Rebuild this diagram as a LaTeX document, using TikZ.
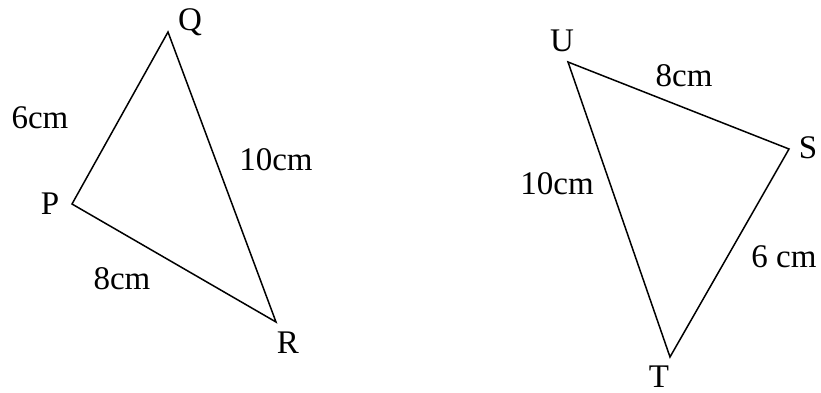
\documentclass[tikz,border=0pt]{standalone}
\usepackage{fontspec}
\setmainfont{Liberation Serif}
\begin{document}
\begin{tikzpicture}[x=1pt,y=-1pt,
  edge/.style={line width=1.5pt,line join=miter},
  lbl/.style={font=\fontsize{33}{35}\selectfont,inner sep=0pt}]
\useasboundingbox (0,0) rectangle (821,392);
% left triangle
\coordinate (P) at (72,204);
\coordinate (Q) at (168,32);
\coordinate (R) at (276,322);
\draw[edge] (P) -- (Q) -- (R) -- cycle;
\node[lbl] (lQ) at (190,22) {Q};
\node[lbl] (lP) at (50,204) {P};
\node[lbl] (lR) at (288,343) {R};
\node[lbl] (l6a) at (40,118) {6cm};
\node[lbl] (l10a) at (276,160) {10cm};
\node[lbl] (l8a) at (122,279) {8cm};
% right triangle
\coordinate (U) at (568,62);
\coordinate (S) at (789,149);
\coordinate (T) at (670,357);
\draw[edge] (U) -- (S) -- (T) -- cycle;
\node[lbl] (lU) at (562,41) {U};
\node[lbl] (lS) at (808,148) {S};
\node[lbl] (lT) at (659,377) {T};
\node[lbl] (l8b) at (684,76) {8cm};
\node[lbl] (l10b) at (557,184) {10cm};
\node[lbl] (l6b) at (784,257) {6 cm};
\end{tikzpicture}
\end{document}
